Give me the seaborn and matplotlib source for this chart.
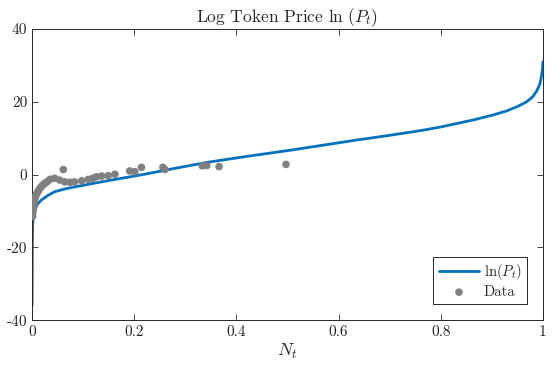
import matplotlib
matplotlib.use("Agg")
import matplotlib.pyplot as plt
import seaborn as sns
import pandas as pd

# curve ln(P_t)
curve_n = [0.0, 0.0002, 0.0005, 0.001, 0.002, 0.005, 0.01, 0.018, 0.03, 0.044, 0.065,
           0.09, 0.12, 0.155, 0.22, 0.286, 0.344, 0.42, 0.505, 0.57, 0.635, 0.70,
           0.765, 0.80, 0.83, 0.863, 0.90, 0.929, 0.95, 0.968, 0.98, 0.988, 0.994,
           0.997, 0.999, 1.0]
curve_lnp = [-36.0, -26.0, -18.0, -14.0, -12.0, -9.8, -8.2, -7.0, -5.8, -4.7, -3.9,
             -3.2, -2.4, -1.5, 0.1, 1.9, 3.4, 5.0, 6.7, 8.1, 9.5, 10.8,
             12.2, 13.1, 14.0, 15.0, 16.3, 17.5, 18.7, 20.0, 21.4, 23.0, 24.9,
             26.9, 28.8, 31.0]

# observed points
data_n = [0.001, 0.001, 0.002, 0.002, 0.003, 0.004, 0.005, 0.006, 0.008, 0.010,
          0.012, 0.014, 0.017, 0.020, 0.023, 0.026, 0.030, 0.035, 0.044, 0.054,
          0.061, 0.064, 0.074, 0.083, 0.097, 0.110, 0.119, 0.126, 0.136, 0.149,
          0.162, 0.191, 0.201, 0.214, 0.256, 0.260, 0.333, 0.342, 0.366, 0.497]
data_lnp = [-11.5, -10.6, -9.8, -9.0, -8.2, -7.5, -6.8, -6.2, -5.6, -5.0,
            -4.5, -4.0, -3.5, -3.0, -2.6, -2.3, -1.9, -1.3, -1.0, -1.5,
            1.4, -2.0, -2.1, -2.0, -1.7, -1.3, -1.0, -0.6, -0.4, -0.3,
            0.1, 1.0, 0.8, 2.0, 2.0, 1.4, 2.4, 2.5, 2.2, 2.8]

curve = pd.DataFrame({"N": curve_n, "lnP": curve_lnp})
data = pd.DataFrame({"N": data_n, "lnP": data_lnp})

sns.set_style("ticks")
plt.rcParams["font.family"] = "serif"
plt.rcParams["font.serif"] = ["cmr10", "DejaVu Serif"]
plt.rcParams["mathtext.fontset"] = "cm"
plt.rcParams["axes.unicode_minus"] = False
plt.rcParams["axes.formatter.use_mathtext"] = True

fig = plt.figure(figsize=(5.54, 3.68), dpi=100)
ax = fig.add_axes([0.058, 0.130, 0.922, 0.791])

sns.lineplot(data=curve, x="N", y="lnP", ax=ax, color="#0072BD", linewidth=2,
             label=r"$\ln(P_t)$", sort=False)
sns.scatterplot(data=data, x="N", y="lnP", ax=ax, color="#808080", s=30,
                edgecolor="none", label="Data", zorder=3)

ax.set_xlim(0, 1)
ax.set_ylim(-40, 40)
ax.set_xticks([0, 0.2, 0.4, 0.6, 0.8, 1])
ax.set_xticklabels(["0", "0.2", "0.4", "0.6", "0.8", "1"])
ax.set_yticks([-40, -20, 0, 20, 40])
ax.set_yticklabels(["-40", "-20", "0", "20", "40"])
ax.tick_params(direction="in", top=True, right=True, labelsize=11, length=4,
               width=0.6, colors="#262626")
for sp in ax.spines.values():
    sp.set_linewidth(0.7)
    sp.set_color("#262626")
    sp.set_visible(True)

ax.set_title(r"Log Token Price $\ln\,(P_t)$", fontsize=12.5, pad=5)
ax.set_xlabel(r"$N_t$", fontsize=13, labelpad=2)
ax.set_ylabel("")

leg = ax.legend(loc="lower right", fontsize=10.5, handlelength=2.8,
                fancybox=False, framealpha=1, edgecolor="#262626",
                borderaxespad=1.1, borderpad=0.35, labelspacing=0.2,
                handletextpad=0.3)
leg.get_frame().set_linewidth(0.7)

fig.savefig("out.png", dpi=100)
